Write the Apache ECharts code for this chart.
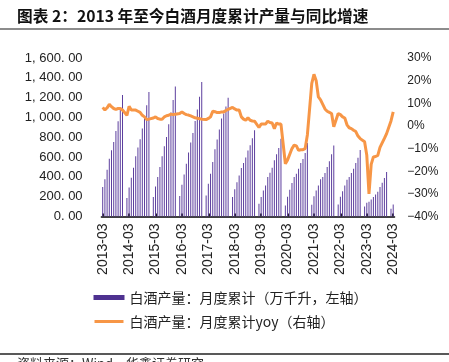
<!DOCTYPE html>
<html>
<head>
<meta charset="utf-8">
<script src="https://cdn.jsdelivr.net/npm/echarts@6/dist/echarts.min.js"></script>
<style>
html,body{margin:0;padding:0;background:#fff;}
#chart{width:449px;height:362px;}
</style>
</head>
<body>
<div id="chart"></div>
<script>
// ---- data (Jan..Dec per year, null = no data) ----
const years = [2013,2014,2015,2016,2017,2018,2019,2020,2021,2022,2023,2024];
const prod2013 = [null,null,297,375,473,584,668,753,864,962,1080,1226];
const prod2014 = [null,186,292,392,493,608,696,780,888,1010,1124,1257];
const prod2015 = [null,196,304,400,500,608,709,803,932,1050,1175,1312];
const prod2016 = [null,206,321,425,533,645,746,844,965,1080,1208,1358];
const prod2017 = [null,213,331,432,550,678,777,878,989,1040,1110,1198];
const prod2018 = [null,196,275,345,415,490,540,595,665,720,790,871];
const prod2019 = [null,128,196,263,314,398,442,493,567,628,692,786];
const prod2020 = [null,111,200,270,338,398,432,483,540,580,640,741];
const prod2021 = [null,118,205,262,314,375,400,439,500,557,628,716];
const prod2022 = [null,122,200,256,314,371,398,439,483,540,594,671];
const prod2023 = [null,100,140,150,172,196,223,250,297,340,388,449];
const prod2024 = [null,78,122];

const yoy2013 = [null,null,8.2,7.0,8.0,9.5,8.5,7.7,7.3,7.7,7.7,7.0];
const yoy2014 = [null,4.7,8.7,7.0,7.0,7.0,6.5,6.0,4.7,4.0,2.8,3.0];
const yoy2015 = [null,3.5,4.0,3.3,3.0,2.9,4.0,4.5,4.7,5.2,5.0,5.2];
const yoy2016 = [null,5.5,6.2,5.5,5.0,4.8,4.4,4.0,3.6,3.4,3.2,3.0];
const yoy2017 = [null,2.8,3.3,4.0,6.5,6.3,5.9,5.9,6.2,6.2,6.8,7.3];
const yoy2018 = [null,8.2,7.5,7.0,7.0,4.0,3.0,2.5,3.6,2.5,2.2,2.1];
const yoy2019 = [null,-0.7,0.8,0.8,0.8,2.1,1.5,1.3,-1.2,1.3,0.8,0.8];
const yoy2020 = [null,-16.7,-15.0,-12.5,-10.0,-8.5,-8.8,-10.8,-10.5,-10.5,-10.0,-4.0];
const yoy2021 = [null,18.8,22.8,20.0,12.8,11.5,9.5,7.5,6.5,6.0,5.5,-0.4];
const yoy2022 = [null,5.5,5.0,4.0,3.5,0.5,-0.8,-1.2,-1.9,-2.5,-4.5,-5.6];
const yoy2023 = [null,-7.0,-13.0,-30.0,-17.0,-13.7,-13.5,-13.0,-9.5,-7.5,-5.5,-3.4];
const yoy2024 = [null,2.2,6.2];

const leftTicks = [0,200,400,600,800,1000,1200,1400,1600];
const rightTicks = [-40,-30,-20,-10,0,10,20,30];

const titleText = '图表 2：2013 年至今白酒月度累计产量与同比增速';
const sourceText = '资料来源：Wind，华鑫证券研究';
const barName = '白酒产量：月度累计（万千升，左轴）';
const lineName = '白酒产量：月度累计yoy（右轴）';

// ---- build ----
const prodAll = [].concat(prod2013,prod2014,prod2015,prod2016,prod2017,prod2018,prod2019,prod2020,prod2021,prod2022,prod2023,prod2024);
const yoyAll = [].concat(yoy2013,yoy2014,yoy2015,yoy2016,yoy2017,yoy2018,yoy2019,yoy2020,yoy2021,yoy2022,yoy2023,yoy2024);
const allCats = [];
years.forEach(y => { for (let m = 1; m <= 12; m++) allCats.push(y + '-' + (m < 10 ? '0' + m : '' + m)); });
const startIdx = 2; // 2013-03
const n = prodAll.length - startIdx;
const categories = allCats.slice(startIdx, startIdx + n);
const barData = prodAll.slice(startIdx);
const lineData = yoyAll.slice(startIdx);

function fmtLeft(v){
  const s = v.toFixed(2);
  let [ip, dp] = s.split('.');
  ip = ip.replace(/\B(?=(\d{3})+(?!\d))/g, ', ');
  return ip + '. ' + dp;
}

const chart = echarts.init(document.getElementById('chart'), null, {renderer:'canvas'});
const latin = 'Liberation Sans, Arial, sans-serif';
const cjk = 'Noto Sans CJK SC, sans-serif';

chart.setOption({
  animation: false,
  backgroundColor: '#fff',
  grid: {left: 101.6, right: 54.7, top: 58, bottom: 145.5, containLabel: false},
  xAxis: {
    type: 'category',
    data: categories,
    boundaryGap: true,
    axisLine: {show: true, lineStyle: {color: '#404040', width: 2}},
    axisTick: {show: true, inside: true, length: 3, interval: 11, alignWithLabel: true, lineStyle: {color: '#222', width: 2}},
    axisLabel: {interval: 11, rotate: 90, margin: 7, fontSize: 14, color: '#222', fontFamily: latin},
    splitLine: {show: false}
  },
  yAxis: [
    {
      type: 'value', min: leftTicks[0], max: leftTicks[leftTicks.length-1], interval: 200,
      axisLine: {show: false}, axisTick: {show: false}, splitLine: {show: false},
      axisLabel: {margin: 19, fontSize: 13, color: '#222', fontFamily: latin, formatter: fmtLeft}
    },
    {
      type: 'value', min: rightTicks[0], max: rightTicks[rightTicks.length-1], interval: 10,
      axisLine: {show: false}, axisTick: {show: false}, splitLine: {show: false},
      axisLabel: {margin: 13, fontSize: 12, color: '#222', fontFamily: latin,
        formatter: v => (v < 0 ? '\u2212' + (-v) : v) + '%'}
    }
  ],
  legend: {
    orient: 'vertical', left: 92.5, top: 289.5, padding: 0, itemGap: 8, itemWidth: 31, itemHeight: 5,
    textStyle: {fontSize: 14, color: '#222', fontFamily: cjk, lineHeight: 16},
    data: [
      {name: barName, icon: 'rect', itemStyle: {color: '#4e3190'}},
      {name: lineName, icon: 'rect', itemStyle: {color: '#f79646', borderColor: '#ffffff', borderWidth: 2}}
    ]
  },
  series: [
    {
      name: barName, type: 'bar', data: barData, yAxisIndex: 0,
      barWidth: 1, itemStyle: {color: '#5d3f9e'}
    },
    {
      name: lineName, type: 'line', data: lineData, yAxisIndex: 1,
      connectNulls: true, symbol: 'none', showSymbol: false, smooth: false,
      lineStyle: {color: '#f79646', width: 3}, itemStyle: {color: '#f79646'}
    }
  ],
  graphic: [
    {type: 'text', left: 17, top: 8, style: {text: titleText, font: 'bold 15.7px ' + cjk, fill: '#111'}},
    {type: 'rect', left: 0, top: 28, shape: {width: 449, height: 2}, style: {fill: '#8c8c8c'}},
    {type: 'rect', left: 0, top: 353.3, shape: {width: 449, height: 1.5}, style: {fill: '#222'}},
    {type: 'text', left: 17, top: 357, style: {text: sourceText, font: '13px ' + cjk, fill: '#333'}}
  ]
});
</script>
</body>
</html>
